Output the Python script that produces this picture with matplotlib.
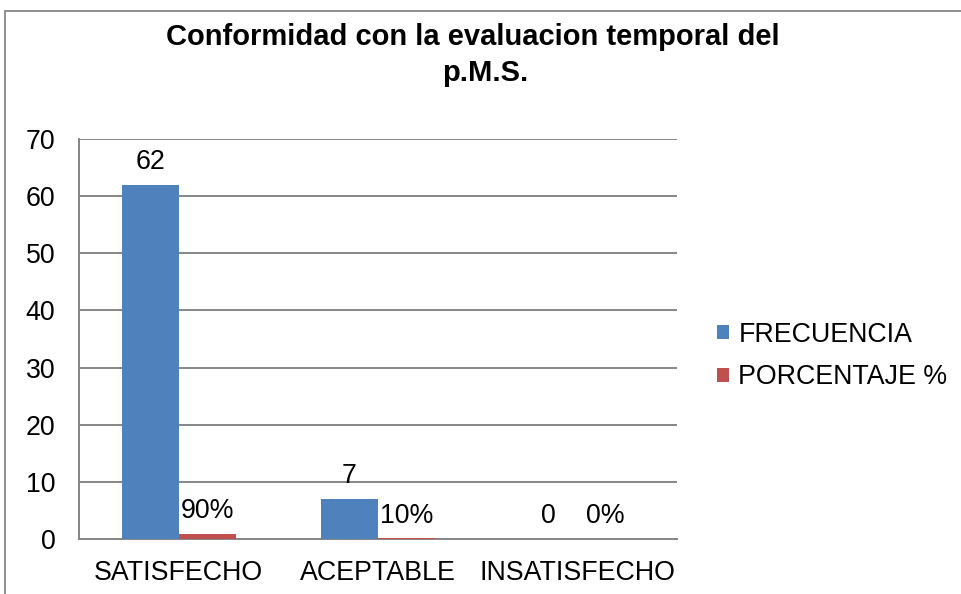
import matplotlib
matplotlib.use("Agg")
import matplotlib.pyplot as plt
from matplotlib.patches import Rectangle
import numpy as np

categories = ["SATISFECHO", "ACEPTABLE", "INSATISFECHO"]
frecuencia = [62, 7, 0]
porcentaje = [0.9, 0.1, 0.0]
porcentaje_labels = ["90%", "10%", "0%"]
yticks = [0, 10, 20, 30, 40, 50, 60, 70]
series_names = ["FRECUENCIA", "PORCENTAJE %"]
title_lines = ["Conformidad con la evaluacion temporal del", "p.M.S."]

plt.rcParams['font.family'] = ['Liberation Sans', 'DejaVu Sans']

W, H = 962, 594
fig = plt.figure(figsize=(W / 100, H / 100), dpi=100)
fig.patch.set_facecolor("white")

# outer chart frame
frame = Rectangle((5 / W, -0.1), 1.2, 1 - 11 / H + 0.1, transform=fig.transFigure,
                  fill=False, edgecolor="#868686", linewidth=1.3, zorder=0)
fig.add_artist(frame)

ax = fig.add_axes([79 / W, (H - 539) / H, (677 - 79) / W, 400 / H])

blue = "#4F81BD"
red = "#C0504D"
grid_c = "#868686"
fs = 19.3

x = np.arange(len(categories))
w = 1 / 3.5
b1 = ax.bar(x - w / 2, frecuencia, w, color=blue, label=series_names[0], zorder=3)
b2 = ax.bar(x + w / 2, porcentaje, w, color=red, label=series_names[1], zorder=3)

for rect, v in zip(b1, frecuencia):
    ax.annotate(str(v), (rect.get_x() + rect.get_width() / 2, rect.get_height()),
                xytext=(0, 7), textcoords="offset points", ha="center", va="bottom",
                fontsize=fs, color="black")
for rect, lab in zip(b2, porcentaje_labels):
    ax.annotate(lab, (rect.get_x() + rect.get_width() / 2, rect.get_height()),
                xytext=(0, 7), textcoords="offset points", ha="center", va="bottom",
                fontsize=fs, color="black")

ax.set_xlim(-0.5, len(categories) - 0.5)
ax.set_ylim(0, 70)
ax.set_yticks(yticks)
ax.set_xticks(x)
ax.set_xticklabels(categories)
ax.yaxis.grid(True, color=grid_c, linewidth=1.4, zorder=0)
ax.set_axisbelow(True)
for s in ["top", "right"]:
    ax.spines[s].set_visible(False)
for s in ["left", "bottom"]:
    ax.spines[s].set_color(grid_c)
    ax.spines[s].set_linewidth(1.4)
ax.tick_params(axis="both", length=0, labelsize=fs, colors="black")
ax.tick_params(axis="y", pad=17)
ax.tick_params(axis="x", pad=15)

fig.text(473 / W, 1 - 23 / H, title_lines[0], ha="center", va="top", fontsize=21,
         fontweight="bold")
fig.text(485 / W, 1 - 59 / H, title_lines[1], ha="center", va="top", fontsize=21,
         fontweight="bold")

leg = ax.legend(loc="center left", bbox_to_anchor=(717 / W, (H - 356) / H),
                bbox_transform=fig.transFigure, frameon=False, fontsize=fs,
                handlelength=0.45, handleheight=0.45, handletextpad=0.35,
                labelspacing=0.62, borderpad=0, borderaxespad=0)

fig.savefig("out.png", dpi=100)
